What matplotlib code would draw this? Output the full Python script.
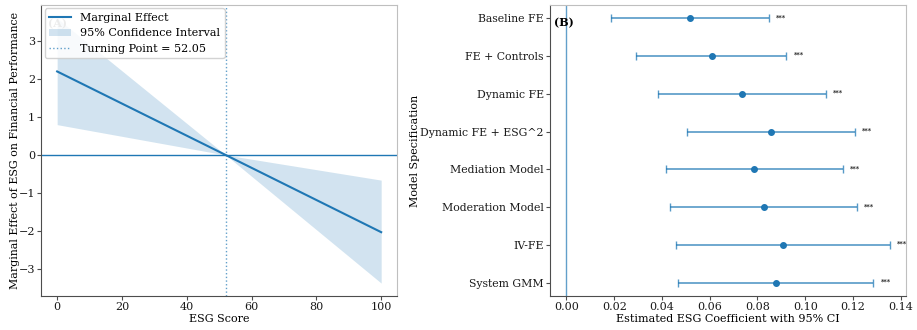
import matplotlib
matplotlib.use("Agg")
import matplotlib.pyplot as plt
import numpy as np

plt.rcParams['font.family'] = ['DejaVu Serif']
plt.rcParams['font.size'] = 8

# Panel A data
esg = [0, 52.05, 100]
effect = [2.2, 0.0, -2.03]
ci_lower = [0.8, 0.0, -3.37]
ci_upper = [3.6, 0.0, -0.66]
turning_point = 52.05

# Panel B data
models = ["Baseline FE", "FE + Controls", "Dynamic FE", "Dynamic FE + ESG^2",
          "Mediation Model", "Moderation Model", "IV-FE", "System GMM"]
coef = [0.0517, 0.0608, 0.0736, 0.0855, 0.0786, 0.0827, 0.0907, 0.0876]
lower = [0.0187, 0.0293, 0.0384, 0.0504, 0.0415, 0.0433, 0.0457, 0.0466]
upper = [0.0849, 0.0921, 0.1088, 0.1208, 0.1158, 0.1215, 0.1355, 0.1285]
stars = ["***"] * 8

fig = plt.figure(figsize=(9.17, 3.30), dpi=100)
ax1 = fig.add_axes([0.045, 0.103, 0.388, 0.882])
ax2 = fig.add_axes([0.600, 0.103, 0.388, 0.882])

c0 = "#1f77b4"
ax1.plot(esg, effect, color=c0, lw=1.5, label="Marginal Effect")
ax1.fill_between(esg, ci_lower, ci_upper, color=c0, alpha=0.2, lw=0,
                 label="95% Confidence Interval")
ax1.axhline(0, color=c0, lw=1)
ax1.axvline(turning_point, color=c0, ls=":", lw=1, alpha=0.7,
            label=f"Turning Point = {turning_point:.2f}")
ax1.set_xlabel("ESG Score", labelpad=1)
ax1.set_ylabel("Marginal Effect of ESG on Financial Performance", labelpad=-1,
               fontsize=7.9)
ax1.set_xlim(-4.9, 104.9)
ax1.set_ylim(-3.71, 3.95)
ax1.text(0.02, 0.955, "(A)", transform=ax1.transAxes, fontweight="bold",
         va="top", color="0.5")
ax1.legend(loc="upper left", fontsize=8, borderaxespad=0.3, framealpha=0.85)

y = np.arange(len(models))
xerr = [np.array(coef) - np.array(lower), np.array(upper) - np.array(coef)]
ax2.errorbar(coef, y, xerr=xerr, fmt="o", color=c0, ms=4,
             ecolor=(0.12, 0.47, 0.71, 0.75), elinewidth=1.2, capsize=3)
ax2.axvline(0, color=c0, lw=1, alpha=0.7)
for yi, u, s in zip(y, upper, stars):
    ax2.text(u + 0.003, yi, s, fontsize=5, va="center", ha="left")
ax2.set_yticks(y)
ax2.set_yticklabels(models, fontsize=7.8)
ax2.invert_yaxis()
ax2.set_xlabel("Estimated ESG Coefficient with 95% CI", labelpad=1)
ax2.set_ylabel("Model Specification", labelpad=0.5)
ax2.set_xlim(-0.0068, 0.1422)
ax2.text(0.012, 0.94, "(B)", transform=ax2.transAxes, fontweight="bold",
         va="center")

for ax in (ax1, ax2):
    ax.spines["left"].set_color("0.3")
    ax.spines["bottom"].set_color("0.3")
    ax.spines["top"].set_color("0.75")
    ax.spines["right"].set_color("0.75")
    ax.tick_params(colors="0.3", labelcolor="0.1", length=3, pad=1.5)

fig.savefig("out.png", dpi=100)
